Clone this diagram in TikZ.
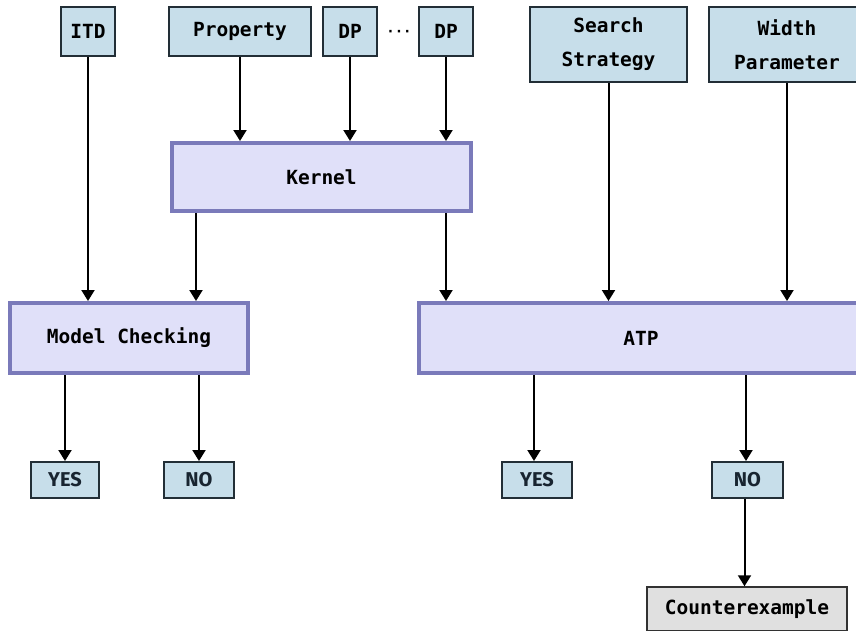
\documentclass[tikz,border=0pt]{standalone}
\usepackage{fontspec}
\setmonofont{DejaVu Sans Mono}
\newfontfamily\yesfont{Fira Sans}
\newfontfamily\dotsfont{DejaVu Sans Mono}
\usetikzlibrary{arrows.meta}
\definecolor{bluefill}{RGB}{199,222,234}
\definecolor{blueline}{RGB}{34,46,54}
\definecolor{lavfill}{RGB}{224,224,249}
\definecolor{lavline}{RGB}{122,122,186}
\definecolor{grayfill}{RGB}{224,224,224}
\definecolor{grayline}{RGB}{50,50,50}
\definecolor{yestext}{RGB}{24,36,48}
\tikzset{
  inbox/.style={draw=blueline, fill=bluefill, line width=2pt, inner sep=0pt,
    font=\ttfamily\bfseries\fontsize{19.5}{34}\selectfont, align=center},
  procbox/.style={draw=lavline, fill=lavfill, line width=4pt, inner sep=0pt,
    font=\ttfamily\bfseries\fontsize{19.5}{34}\selectfont},
  resbox/.style={draw=blueline, fill=bluefill, line width=2pt, inner sep=0pt,
    minimum height=36pt, text=yestext, font=\yesfont\bfseries\fontsize{20}{22}\selectfont},
  cexbox/.style={draw=grayline, fill=grayfill, line width=1.5pt, inner sep=0pt,
    font=\ttfamily\bfseries\fontsize{19.5}{22}\selectfont},
  arr/.style={line width=2pt, -{Triangle[length=11pt,width=13pt]}},
}
\begin{document}
\begin{tikzpicture}[x=1pt,y=-1pt]
\useasboundingbox (0,0) rectangle (856,630);
\clip (0,0) rectangle (856,630);
% inputs
\node[inbox, minimum width=54pt, minimum height=49pt] (itd) at (88,31.5) {ITD};
\node[inbox, minimum width=142pt, minimum height=49pt] (prop) at (240,31.5) {Property};
\node[inner sep=0pt, font=\dotsfont\bfseries\fontsize{14}{14}\selectfont] (dots) at (399,33) {···};
\node[inbox, minimum width=54pt, minimum height=49pt] (dp1) at (350,31.5) {DP};
\node[inbox, minimum width=54pt, minimum height=49pt] (dp2) at (446,31.5) {DP};
\node[inbox, minimum width=157pt, minimum height=75pt] (ss) at (608.5,44.5) {Search\\Strategy};
\node[inbox, minimum width=156pt, minimum height=75pt] (wp) at (787,44.5) {Width\\Parameter};
% processing
\node[procbox, minimum width=299pt, minimum height=68pt] (kernel) at (321.5,177) {Kernel};
\node[procbox, minimum width=238pt, minimum height=70pt] (mc) at (129,338) {Model Checking};
\node[procbox, minimum width=444pt, minimum height=70pt] (atp) at (641,338) {ATP};
% results
\node[resbox, minimum width=68pt] (yes1) at (65,480) {YES};
\node[resbox, minimum width=70pt] (no1) at (199,480) {NO};
\node[resbox, minimum width=70pt] (yes2) at (537,480) {YES};
\node[resbox, minimum width=71pt] (no2) at (747.5,480) {NO};
\node[cexbox, minimum width=200pt, minimum height=44pt] (cex) at (747,609) {Counterexample};
% connectors
\draw[arr] (itd.south) -- (itd.south |- mc.north);
\draw[arr] (prop.south) -- (prop.south |- kernel.north);
\draw[arr] (dp1.south) -- (dp1.south |- kernel.north);
\draw[arr] (dp2.south) -- (dp2.south |- kernel.north);
\coordinate (k1) at ([xshift=26pt]kernel.south west);
\draw[arr] (k1) -- (k1 |- mc.north);
\draw[arr] (dp2.south |- kernel.south) -- (dp2.south |- atp.north);
\draw[arr] (ss.south) -- (ss.south |- atp.north);
\draw[arr] (wp.south) -- (wp.south |- atp.north);
\draw[arr] (yes1.north |- mc.south) -- (yes1.north);
\draw[arr] (no1.north |- mc.south) -- (no1.north);
\coordinate (a1) at ([xshift=-3pt]yes2.north);
\draw[arr] (a1 |- atp.south) -- (a1);
\coordinate (a2) at ([xshift=-1.5pt]no2.north);
\draw[arr] (a2 |- atp.south) -- (a2);
\coordinate (n2) at ([xshift=-3pt]no2.south);
\draw[arr] (n2) -- (n2 |- cex.north);
\end{tikzpicture}
\end{document}
